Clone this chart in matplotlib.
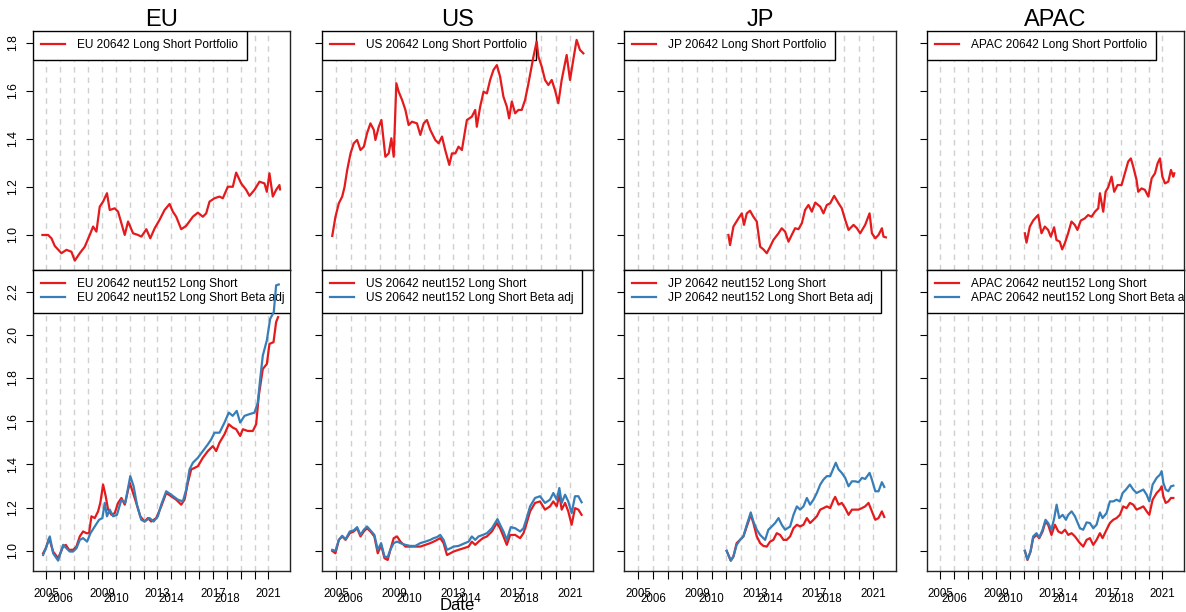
"""
Long/short portfolio performance by region: raw portfolio (top row)
and neutralised / beta-adjusted variants (bottom row).
"""

import matplotlib
matplotlib.use("Agg")
import matplotlib.pyplot as plt
import matplotlib.ticker as mticker

plt.rcParams["font.family"] = ["Liberation Sans", "DejaVu Sans"]

RED  = "#E41A1C"
BLUE = "#377EB8"
GRID = "#d0d0d0"

REGIONS = ["EU", "US", "JP", "APAC"]

# ── Data: (decimal year, cumulative value) ───────────────────────────────────
EU_TOP = [
    (2004.71, 1.000), (2005.12, 1.000), (2005.36, 0.986), (2005.60, 0.954),
    (2006.08, 0.924), (2006.44, 0.938), (2006.80, 0.930), (2007.04, 0.893),
    (2007.40, 0.924), (2007.76, 0.951), (2008.12, 1.000), (2008.36, 1.035),
    (2008.60, 1.014), (2008.84, 1.118), (2009.08, 1.139), (2009.36, 1.174),
    (2009.56, 1.104), (2009.92, 1.111), (2010.16, 1.097), (2010.40, 1.049),
    (2010.64, 1.000), (2010.88, 1.056), (2011.24, 1.007), (2011.60, 1.000),
    (2011.84, 0.993), (2012.20, 1.024), (2012.48, 0.986), (2012.80, 1.028),
    (2013.15, 1.063), (2013.51, 1.104), (2013.87, 1.129), (2014.11, 1.097),
    (2014.35, 1.076), (2014.71, 1.024), (2015.07, 1.038), (2015.55, 1.076),
    (2015.91, 1.093), (2016.27, 1.076), (2016.51, 1.090), (2016.75, 1.139),
    (2017.11, 1.153), (2017.47, 1.160), (2017.71, 1.153), (2018.07, 1.201),
    (2018.43, 1.201), (2018.67, 1.260), (2019.03, 1.215), (2019.39, 1.188),
    (2019.63, 1.163), (2019.99, 1.188), (2020.35, 1.222), (2020.71, 1.215),
    (2020.88, 1.180), (2021.07, 1.257), (2021.31, 1.160), (2021.55, 1.188),
    (2021.79, 1.208), (2021.83, 1.190),
]
US_TOP = [
    (2004.73, 0.996), (2004.95, 1.076), (2005.18, 1.132), (2005.41, 1.160),
    (2005.57, 1.200), (2005.75, 1.270), (2005.98, 1.340), (2006.20, 1.382),
    (2006.43, 1.396), (2006.66, 1.354), (2006.89, 1.368), (2007.11, 1.424),
    (2007.34, 1.465), (2007.57, 1.438), (2007.68, 1.396), (2007.91, 1.451),
    (2008.09, 1.479), (2008.36, 1.326), (2008.59, 1.340), (2008.77, 1.403),
    (2008.93, 1.326), (2009.11, 1.632), (2009.27, 1.597), (2009.50, 1.563),
    (2009.73, 1.521), (2009.95, 1.458), (2010.18, 1.472), (2010.52, 1.465),
    (2010.75, 1.417), (2010.98, 1.465), (2011.20, 1.479), (2011.43, 1.438),
    (2011.77, 1.396), (2012.00, 1.382), (2012.23, 1.410), (2012.45, 1.354),
    (2012.73, 1.292), (2012.91, 1.340), (2013.14, 1.340), (2013.36, 1.368),
    (2013.59, 1.354), (2013.93, 1.479), (2014.27, 1.493), (2014.50, 1.521),
    (2014.61, 1.451), (2014.84, 1.535), (2015.07, 1.597), (2015.30, 1.590),
    (2015.52, 1.646), (2015.75, 1.688), (2015.98, 1.708), (2016.20, 1.660),
    (2016.43, 1.576), (2016.66, 1.535), (2016.82, 1.486), (2017.00, 1.556),
    (2017.23, 1.507), (2017.45, 1.521), (2017.68, 1.521), (2017.91, 1.563),
    (2018.14, 1.632), (2018.48, 1.743), (2018.70, 1.806), (2018.82, 1.743),
    (2019.05, 1.701), (2019.27, 1.646), (2019.50, 1.625), (2019.73, 1.646),
    (2019.95, 1.604), (2020.18, 1.549), (2020.41, 1.646), (2020.75, 1.750),
    (2020.98, 1.646), (2021.20, 1.729), (2021.43, 1.813), (2021.66, 1.771),
    (2021.89, 1.757),
]
JP_TOP = [
    (2011.14, 1.000), (2011.25, 0.958), (2011.48, 1.035), (2011.82, 1.069),
    (2012.05, 1.090), (2012.20, 1.042), (2012.39, 1.090), (2012.61, 1.101),
    (2012.84, 1.076), (2013.07, 1.056), (2013.30, 0.951), (2013.52, 0.940),
    (2013.75, 0.924), (2013.98, 0.951), (2014.20, 0.979), (2014.55, 1.007),
    (2014.77, 1.028), (2015.00, 1.014), (2015.23, 0.972), (2015.45, 1.000),
    (2015.68, 1.028), (2015.91, 1.024), (2016.14, 1.049), (2016.36, 1.104),
    (2016.59, 1.125), (2016.82, 1.097), (2017.05, 1.135), (2017.39, 1.118),
    (2017.61, 1.090), (2017.84, 1.125), (2018.07, 1.132), (2018.34, 1.163),
    (2018.64, 1.132), (2018.86, 1.111), (2019.09, 1.063), (2019.32, 1.021),
    (2019.66, 1.042), (2019.89, 1.028), (2020.11, 1.007), (2020.45, 1.042),
    (2020.75, 1.090), (2020.91, 1.007), (2021.14, 0.986), (2021.36, 1.000),
    (2021.59, 1.028), (2021.70, 0.993), (2021.86, 0.990),
]
APAC_TOP = [
    (2011.08, 1.007), (2011.20, 0.968), (2011.44, 1.035), (2011.68, 1.060),
    (2011.92, 1.076), (2012.04, 1.083), (2012.28, 1.007), (2012.52, 1.035),
    (2012.76, 1.021), (2012.95, 0.993), (2013.19, 1.032), (2013.36, 0.979),
    (2013.60, 0.972), (2013.77, 0.940), (2013.96, 0.965), (2014.20, 1.007),
    (2014.44, 1.056), (2014.68, 1.042), (2014.87, 1.021), (2015.11, 1.060),
    (2015.40, 1.069), (2015.64, 1.083), (2015.89, 1.076), (2016.13, 1.097),
    (2016.37, 1.111), (2016.49, 1.174), (2016.73, 1.097), (2016.90, 1.180),
    (2017.09, 1.199), (2017.33, 1.243), (2017.52, 1.180), (2017.76, 1.208),
    (2018.05, 1.208), (2018.29, 1.257), (2018.53, 1.306), (2018.72, 1.319),
    (2018.89, 1.285), (2019.13, 1.229), (2019.25, 1.180), (2019.49, 1.194),
    (2019.73, 1.188), (2019.98, 1.160), (2020.22, 1.236), (2020.46, 1.257),
    (2020.65, 1.299), (2020.82, 1.319), (2020.99, 1.243), (2021.18, 1.215),
    (2021.42, 1.222), (2021.61, 1.271), (2021.78, 1.243), (2021.85, 1.257),
]

EU_LS = [
    (2004.76, 0.989), (2004.95, 1.012), (2005.19, 1.059), (2005.48, 0.997),
    (2005.84, 0.966), (2006.20, 1.020), (2006.39, 1.028), (2006.63, 1.005),
    (2006.92, 1.005), (2007.16, 1.020), (2007.40, 1.067), (2007.64, 1.090),
    (2007.88, 1.082), (2008.07, 1.082), (2008.24, 1.160), (2008.48, 1.152),
    (2008.72, 1.183), (2008.88, 1.222), (2009.08, 1.307), (2009.27, 1.253),
    (2009.44, 1.191), (2009.68, 1.167), (2009.92, 1.175), (2010.16, 1.222),
    (2010.40, 1.245), (2010.64, 1.214), (2011.00, 1.315), (2011.24, 1.268),
    (2011.47, 1.222), (2011.76, 1.160), (2012.07, 1.136), (2012.31, 1.152),
    (2012.55, 1.136), (2012.91, 1.152), (2013.27, 1.206), (2013.63, 1.268),
    (2013.99, 1.253), (2014.35, 1.237), (2014.71, 1.214), (2014.95, 1.237),
    (2015.19, 1.315), (2015.43, 1.377), (2015.67, 1.384), (2015.91, 1.392),
    (2016.27, 1.431), (2016.63, 1.462), (2016.99, 1.485), (2017.23, 1.462),
    (2017.47, 1.501), (2017.83, 1.540), (2018.14, 1.586), (2018.42, 1.571),
    (2018.67, 1.563), (2018.96, 1.532), (2019.15, 1.563), (2019.51, 1.555),
    (2019.87, 1.555), (2020.11, 1.586), (2020.30, 1.718), (2020.59, 1.842),
    (2020.88, 1.865), (2021.07, 1.958), (2021.36, 1.966), (2021.55, 2.059),
    (2021.69, 2.082),
]
EU_BETA = [
    (2004.76, 0.981), (2005.00, 1.020), (2005.24, 1.067), (2005.48, 0.989),
    (2005.84, 0.955), (2006.20, 1.028), (2006.44, 1.012), (2006.68, 0.997),
    (2006.92, 0.997), (2007.16, 1.012), (2007.40, 1.051), (2007.64, 1.059),
    (2007.93, 1.043), (2008.17, 1.082), (2008.48, 1.113), (2008.79, 1.144),
    (2009.03, 1.152), (2009.20, 1.222), (2009.36, 1.160), (2009.56, 1.191),
    (2009.80, 1.160), (2010.08, 1.167), (2010.40, 1.237), (2010.68, 1.222),
    (2011.04, 1.346), (2011.28, 1.299), (2011.52, 1.214), (2011.83, 1.144),
    (2012.07, 1.136), (2012.43, 1.152), (2012.72, 1.136), (2013.03, 1.160),
    (2013.27, 1.214), (2013.63, 1.276), (2013.99, 1.260), (2014.47, 1.237),
    (2014.83, 1.229), (2015.07, 1.284), (2015.31, 1.377), (2015.55, 1.408),
    (2015.91, 1.431), (2016.27, 1.462), (2016.63, 1.493), (2016.87, 1.516),
    (2017.11, 1.547), (2017.47, 1.547), (2017.83, 1.594), (2018.14, 1.640),
    (2018.42, 1.625), (2018.71, 1.648), (2018.96, 1.594), (2019.27, 1.625),
    (2019.63, 1.633), (2019.99, 1.640), (2020.23, 1.687), (2020.40, 1.795),
    (2020.59, 1.904), (2020.88, 1.974), (2021.12, 2.074), (2021.38, 2.105),
    (2021.55, 2.229), (2021.74, 2.233),
]
US_LS = [
    (2004.73, 1.000), (2004.95, 0.989), (2005.18, 1.051), (2005.41, 1.067),
    (2005.64, 1.051), (2005.93, 1.082), (2006.20, 1.090), (2006.43, 1.105),
    (2006.66, 1.067), (2006.89, 1.090), (2007.11, 1.105), (2007.34, 1.090),
    (2007.61, 1.067), (2007.84, 0.989), (2008.07, 1.028), (2008.30, 0.966),
    (2008.52, 0.958), (2008.70, 1.005), (2008.93, 1.059), (2009.16, 1.067),
    (2009.39, 1.043), (2009.73, 1.020), (2010.07, 1.020), (2010.41, 1.020),
    (2010.75, 1.020), (2011.09, 1.028), (2011.43, 1.036), (2011.66, 1.043),
    (2011.89, 1.051), (2012.11, 1.059), (2012.34, 1.036), (2012.57, 0.981),
    (2012.80, 0.989), (2013.02, 0.997), (2013.36, 1.005), (2013.70, 1.012),
    (2014.05, 1.020), (2014.27, 1.043), (2014.50, 1.028), (2014.73, 1.043),
    (2015.02, 1.059), (2015.30, 1.067), (2015.64, 1.090), (2015.98, 1.129),
    (2016.20, 1.105), (2016.43, 1.067), (2016.66, 1.028), (2016.89, 1.074),
    (2017.23, 1.074), (2017.57, 1.059), (2017.80, 1.082), (2018.02, 1.129),
    (2018.25, 1.183), (2018.59, 1.222), (2018.93, 1.229), (2019.27, 1.191),
    (2019.61, 1.206), (2019.84, 1.229), (2020.07, 1.206), (2020.25, 1.260),
    (2020.41, 1.191), (2020.64, 1.222), (2020.86, 1.183), (2021.09, 1.121),
    (2021.32, 1.198), (2021.55, 1.191), (2021.77, 1.167),
]
US_BETA = [
    (2004.73, 1.005), (2004.95, 1.000), (2005.18, 1.051), (2005.41, 1.070),
    (2005.64, 1.054), (2005.93, 1.090), (2006.20, 1.095), (2006.43, 1.110),
    (2006.66, 1.074), (2006.89, 1.098), (2007.11, 1.113), (2007.34, 1.095),
    (2007.61, 1.074), (2007.84, 1.005), (2008.07, 1.036), (2008.30, 0.974),
    (2008.52, 0.971), (2008.70, 1.005), (2008.93, 1.036), (2009.16, 1.043),
    (2009.39, 1.036), (2009.73, 1.028), (2010.07, 1.023), (2010.41, 1.023),
    (2010.75, 1.036), (2011.09, 1.043), (2011.43, 1.051), (2011.66, 1.059),
    (2011.89, 1.064), (2012.11, 1.074), (2012.34, 1.051), (2012.57, 1.005),
    (2012.80, 1.012), (2013.02, 1.020), (2013.36, 1.023), (2013.70, 1.033),
    (2014.05, 1.043), (2014.27, 1.067), (2014.50, 1.051), (2014.73, 1.067),
    (2015.02, 1.074), (2015.30, 1.082), (2015.64, 1.105), (2016.02, 1.147),
    (2016.20, 1.121), (2016.43, 1.090), (2016.66, 1.051), (2016.93, 1.110),
    (2017.23, 1.105), (2017.57, 1.090), (2017.80, 1.105), (2018.02, 1.152),
    (2018.25, 1.206), (2018.59, 1.245), (2018.93, 1.253), (2019.27, 1.222),
    (2019.61, 1.237), (2019.84, 1.268), (2020.07, 1.237), (2020.25, 1.291),
    (2020.41, 1.222), (2020.64, 1.260), (2020.86, 1.229), (2021.09, 1.175),
    (2021.32, 1.253), (2021.55, 1.253), (2021.77, 1.225),
]
JP_LS = [
    (2011.02, 1.000), (2011.30, 0.955), (2011.48, 0.974), (2011.70, 1.036),
    (2011.93, 1.051), (2012.16, 1.067), (2012.39, 1.113), (2012.66, 1.167),
    (2012.84, 1.129), (2013.07, 1.067), (2013.30, 1.036), (2013.52, 1.023),
    (2013.75, 1.020), (2013.98, 1.043), (2014.20, 1.051), (2014.43, 1.082),
    (2014.66, 1.074), (2014.89, 1.051), (2015.11, 1.051), (2015.34, 1.067),
    (2015.57, 1.105), (2015.80, 1.121), (2016.02, 1.113), (2016.25, 1.121),
    (2016.48, 1.152), (2016.70, 1.129), (2016.93, 1.144), (2017.16, 1.160),
    (2017.39, 1.191), (2017.61, 1.198), (2017.84, 1.206), (2018.07, 1.198),
    (2018.30, 1.237), (2018.41, 1.250), (2018.64, 1.214), (2018.86, 1.222),
    (2019.09, 1.198), (2019.32, 1.167), (2019.55, 1.191), (2019.77, 1.191),
    (2020.00, 1.191), (2020.23, 1.198), (2020.45, 1.206), (2020.68, 1.222),
    (2020.91, 1.183), (2021.14, 1.144), (2021.36, 1.152), (2021.59, 1.183),
    (2021.75, 1.157),
]
JP_BETA = [
    (2011.02, 1.000), (2011.30, 0.955), (2011.48, 0.974), (2011.70, 1.028),
    (2011.93, 1.051), (2012.16, 1.067), (2012.39, 1.121), (2012.66, 1.178),
    (2012.84, 1.136), (2013.07, 1.098), (2013.30, 1.074), (2013.64, 1.051),
    (2013.86, 1.098), (2014.09, 1.113), (2014.32, 1.129), (2014.55, 1.152),
    (2014.77, 1.121), (2015.00, 1.098), (2015.34, 1.113), (2015.57, 1.167),
    (2015.80, 1.206), (2016.02, 1.191), (2016.25, 1.206), (2016.48, 1.245),
    (2016.70, 1.214), (2016.93, 1.237), (2017.16, 1.268), (2017.39, 1.307),
    (2017.61, 1.330), (2017.84, 1.346), (2018.07, 1.346), (2018.30, 1.384),
    (2018.45, 1.408), (2018.64, 1.377), (2018.86, 1.361), (2019.09, 1.338),
    (2019.32, 1.299), (2019.55, 1.322), (2019.77, 1.322), (2020.00, 1.318),
    (2020.23, 1.338), (2020.45, 1.333), (2020.75, 1.361), (2020.91, 1.330),
    (2021.14, 1.276), (2021.36, 1.276), (2021.59, 1.318), (2021.75, 1.296),
]
APAC_LS = [
    (2011.08, 1.000), (2011.27, 0.958), (2011.49, 0.997), (2011.68, 1.059),
    (2011.92, 1.074), (2012.12, 1.059), (2012.36, 1.090), (2012.57, 1.136),
    (2012.76, 1.121), (2013.00, 1.074), (2013.25, 1.121), (2013.49, 1.090),
    (2013.73, 1.082), (2013.97, 1.098), (2014.21, 1.074), (2014.45, 1.082),
    (2014.69, 1.067), (2015.05, 1.036), (2015.29, 1.020), (2015.53, 1.051),
    (2015.77, 1.059), (2016.01, 1.028), (2016.25, 1.051), (2016.49, 1.082),
    (2016.68, 1.059), (2016.97, 1.098), (2017.21, 1.129), (2017.45, 1.144),
    (2017.69, 1.152), (2017.93, 1.167), (2018.17, 1.206), (2018.41, 1.198),
    (2018.65, 1.222), (2018.89, 1.214), (2019.13, 1.191), (2019.38, 1.198),
    (2019.62, 1.206), (2019.86, 1.183), (2020.05, 1.167), (2020.29, 1.237),
    (2020.58, 1.268), (2020.82, 1.284), (2020.94, 1.299), (2021.06, 1.253),
    (2021.23, 1.222), (2021.42, 1.229), (2021.61, 1.245), (2021.78, 1.245),
]
APAC_BETA = [
    (2011.08, 1.000), (2011.27, 0.961), (2011.49, 0.997), (2011.68, 1.067),
    (2011.92, 1.082), (2012.12, 1.062), (2012.36, 1.098), (2012.57, 1.144),
    (2012.76, 1.129), (2013.00, 1.098), (2013.20, 1.152), (2013.37, 1.214),
    (2013.56, 1.152), (2013.80, 1.167), (2014.04, 1.144), (2014.21, 1.167),
    (2014.45, 1.183), (2014.69, 1.160), (2015.05, 1.105), (2015.29, 1.098),
    (2015.53, 1.132), (2015.77, 1.129), (2016.01, 1.105), (2016.25, 1.121),
    (2016.49, 1.178), (2016.68, 1.152), (2016.97, 1.175), (2017.21, 1.229),
    (2017.45, 1.229), (2017.69, 1.237), (2017.93, 1.229), (2018.13, 1.268),
    (2018.37, 1.284), (2018.65, 1.307), (2018.89, 1.284), (2019.13, 1.268),
    (2019.38, 1.276), (2019.62, 1.284), (2019.86, 1.260), (2020.05, 1.229),
    (2020.29, 1.307), (2020.58, 1.338), (2020.82, 1.353), (2020.94, 1.369),
    (2021.06, 1.315), (2021.23, 1.284), (2021.42, 1.276), (2021.61, 1.299),
    (2021.78, 1.302),
]

TOP_SERIES  = [EU_TOP, US_TOP, JP_TOP, APAC_TOP]
LS_SERIES   = [EU_LS, US_LS, JP_LS, APAC_LS]
BETA_SERIES = [EU_BETA, US_BETA, JP_BETA, APAC_BETA]

YEARS       = list(range(2005, 2022))
UPPER_YEARS = [2005, 2009, 2013, 2017, 2021]
LOWER_YEARS = [2006, 2010, 2014, 2018]
TOP_YTICKS  = [1.0, 1.2, 1.4, 1.6, 1.8]
BOT_YTICKS  = [1.0, 1.2, 1.4, 1.6, 1.8, 2.0, 2.2]

# ── Layout (pixel boxes of the panels) ───────────────────────────────────────
W, H = 1186, 612
COLS = [(33, 290), (322, 593), (624, 896), (927, 1184)]
TOP_ROW = (31, 270)
BOT_ROW = (270, 571)
XLIM = (2004.03, 2022.55)
TOP_YLIM = (0.854, 1.85)
BOT_YLIM = (0.907, 2.30)


def add_px_axes(fig, cols, rows):
    (l, r), (t, b) = cols, rows
    return fig.add_axes([l / W, 1 - b / H, (r - l) / W, (b - t) / H])


def unzip(pairs):
    return [p[0] for p in pairs], [p[1] for p in pairs]


def style_axes(ax, yticks, show_ylabels, bottom_row):
    ax.set_xlim(*XLIM)
    ax.xaxis.set_major_locator(mticker.FixedLocator(YEARS))
    ax.grid(True, axis="x", color=GRID, linestyle=(0, (4, 3.5)), linewidth=1.0)
    ax.set_axisbelow(True)
    ax.set_yticks(yticks)
    ax.yaxis.set_major_formatter(mticker.FormatStrFormatter("%.1f"))
    ax.tick_params(axis="y", direction="out", length=5, width=0.8,
                   labelsize=8.8, pad=5, labelrotation=90,
                   labelleft=show_ylabels)
    for lab in ax.get_yticklabels():
        lab.set_va("center")
    if bottom_row:
        # two staggered rows of year labels, ticks on every year
        ax.xaxis.set_major_formatter(mticker.FuncFormatter(
            lambda v, _: str(int(round(v))) if int(round(v)) in UPPER_YEARS else ""))
        ax.tick_params(axis="x", direction="out", length=6, width=0.8,
                       labelsize=8.3, pad=6)
        sec = ax.secondary_xaxis("bottom")
        sec.set_xticks(LOWER_YEARS, [str(y) for y in LOWER_YEARS])
        sec.tick_params(axis="x", length=0, labelsize=8.3, pad=15.5)
        sec.spines["bottom"].set_visible(False)
    else:
        ax.tick_params(axis="x", length=0, labelbottom=False)
    for sp in ax.spines.values():
        sp.set_linewidth(1.0)
        sp.set_color("#222222")


def clipped_legend(ax, **kw):
    leg = ax.legend(loc="upper left", borderaxespad=0, fancybox=False,
                    edgecolor="black", framealpha=1, fontsize=8.6,
                    handlelength=2.0, handletextpad=1.0, borderpad=0.7,
                    labelspacing=0.15, **kw)
    leg.get_frame().set_linewidth(1.0)
    leg.set_zorder(4)
    for a in [leg.legendPatch] + leg.get_texts():
        a.set_clip_box(ax.bbox)
        a.set_clip_on(True)
    return leg


def main():
    fig = plt.figure(figsize=(W / 100, H / 100), dpi=100)

    for i, region in enumerate(REGIONS):
        # top: long/short portfolio
        ax = add_px_axes(fig, COLS[i], TOP_ROW)
        x, y = unzip(TOP_SERIES[i])
        ax.plot(x, y, color=RED, linewidth=1.6, zorder=6,
                label=f"{region} 20642 Long Short Portfolio")
        ax.set_ylim(*TOP_YLIM)
        style_axes(ax, TOP_YTICKS, i == 0, bottom_row=False)
        ax.set_title(region, fontsize=17, pad=3)
        clipped_legend(ax)

        # bottom: neutralised and beta-adjusted variants
        ax = add_px_axes(fig, COLS[i], BOT_ROW)
        x, y = unzip(LS_SERIES[i])
        ax.plot(x, y, color=RED, linewidth=1.6, zorder=6,
                label=f"{region} 20642 neut152 Long Short")
        x, y = unzip(BETA_SERIES[i])
        ax.plot(x, y, color=BLUE, linewidth=1.6, zorder=6,
                label=f"{region} 20642 neut152 Long Short Beta adj")
        ax.set_ylim(*BOT_YLIM)
        style_axes(ax, BOT_YTICKS, i == 0, bottom_row=True)
        clipped_legend(ax)

    fig.text(457 / W, 1 - 605 / H, "Date", ha="center", va="center", fontsize=12)

    fig.savefig("out.png", dpi=100)


if __name__ == "__main__":
    main()
